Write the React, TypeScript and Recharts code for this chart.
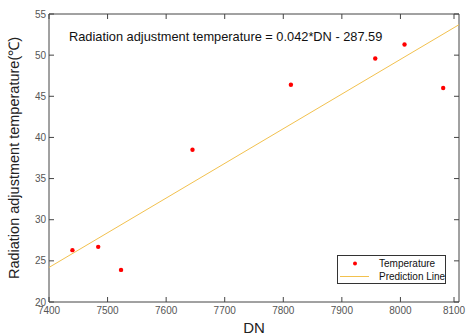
import React from "react";
import { ComposedChart, Scatter, XAxis, YAxis } from "recharts";

const dnValues = [7440, 7484, 7523, 7645, 7813, 7957, 8007, 8073];
const tempValues = [26.3, 26.7, 23.9, 38.5, 46.4, 49.6, 51.3, 46.0];

// fitted prediction line endpoints
const lineDn = [7400, 8100];
const lineTemp = [24.2, 53.7];

const xTicks = [7400, 7500, 7600, 7700, 7800, 7900, 8000, 8100];
const yTicks = [20, 25, 30, 35, 40, 45, 50, 55];

const points = dnValues.map((dn, i) => ({ dn, temp: tempValues[i] }));
const linePoints = lineDn.map((dn, i) => ({ dn, temp: lineTemp[i] }));

const AXIS = "#444";
const LABEL = "#555";
const FONT = "'Liberation Sans', Arial, sans-serif";

const BottomTick = (props: any) => {
  const { x, y, payload } = props;
  return (
    <g>
      <line x1={x} y1={y} x2={x} y2={y - 5} stroke={AXIS} strokeWidth={1} />
      <text x={x} y={y + 12} textAnchor="middle" fontSize={10} fill={LABEL} fontFamily={FONT}>
        {payload.value}
      </text>
    </g>
  );
};

const TopTick = (props: any) => {
  const { x, y } = props;
  return <line x1={x} y1={y} x2={x} y2={y + 5} stroke={AXIS} strokeWidth={1} />;
};

const LeftTick = (props: any) => {
  const { x, y, payload } = props;
  return (
    <g>
      <line x1={x} y1={y} x2={x + 5} y2={y} stroke={AXIS} strokeWidth={1} />
      <text x={x - 3} y={y + 3.5} textAnchor="end" fontSize={10} fill={LABEL} fontFamily={FONT}>
        {payload.value}
      </text>
    </g>
  );
};

const RightTick = (props: any) => {
  const { x, y } = props;
  return <line x1={x} y1={y} x2={x - 5} y2={y} stroke={AXIS} strokeWidth={1} />;
};

const Dot = (props: any) => <circle cx={props.cx} cy={props.cy} r={2.2} fill="#ff0000" />;

const LegendBox = () => (
  <svg width={109} height={29} style={{ display: "block" }}>
    <rect x={0.5} y={0.5} width={108} height={28} fill="#fff" stroke="#333" strokeWidth={1} />
    <circle cx={18} cy={8.5} r={2} fill="#ff0000" />
    <text x={42} y={12} fontSize={10} fill="#111" fontFamily={FONT}>Temperature</text>
    <line x1={3} y1={21.5} x2={32} y2={21.5} stroke="#f2c14e" strokeWidth={1} />
    <text x={42} y={25} fontSize={10} fill="#111" fontFamily={FONT}>Prediction Line</text>
  </svg>
);

export default function App() {
  return (
    <div style={{ position: "absolute", left: 0, top: 0, width: 470, height: 335, background: "#fff" }}>
      <ComposedChart width={470} height={335} margin={{ top: 0, right: 0, bottom: 0, left: 0 }}>
        <XAxis
          xAxisId="bottom"
          dataKey="dn"
          type="number"
          domain={[7400, 8100]}
          ticks={xTicks}
          allowDataOverflow
          orientation="bottom"
          height={33}
          tickSize={0}
          tickMargin={0}
          tickLine={false}
          axisLine={{ stroke: AXIS }}
          tick={<BottomTick />}
          label={{ value: "DN", position: "insideBottom", offset: 2, fontSize: 15, fill: "#222", fontFamily: FONT }}
        />
        <XAxis
          xAxisId="top"
          dataKey="dn"
          type="number"
          domain={[7400, 8100]}
          ticks={xTicks}
          allowDataOverflow
          orientation="top"
          height={14}
          tickSize={0}
          tickMargin={0}
          tickLine={false}
          axisLine={{ stroke: AXIS }}
          tick={<TopTick />}
        />
        <YAxis
          yAxisId="left"
          dataKey="temp"
          type="number"
          domain={[20, 55]}
          ticks={yTicks}
          allowDataOverflow
          orientation="left"
          width={49}
          tickSize={0}
          tickMargin={0}
          tickLine={false}
          axisLine={{ stroke: AXIS }}
          tick={<LeftTick />}
          label={{
            value: "Radiation adjustment temperature(\u2103)",
            angle: -90,
            position: "insideLeft",
            offset: 14,
            fontSize: 14.5,
            fill: "#222",
            fontFamily: FONT,
            style: { textAnchor: "middle" },
          }}
        />
        <YAxis
          yAxisId="right"
          dataKey="temp"
          type="number"
          domain={[20, 55]}
          ticks={yTicks}
          allowDataOverflow
          orientation="right"
          width={11}
          tickSize={0}
          tickMargin={0}
          tickLine={false}
          axisLine={{ stroke: AXIS }}
          tick={<RightTick />}
        />
        <Scatter
          name="Prediction Line"
          data={linePoints}
          xAxisId="bottom"
          yAxisId="left"
          line={{ stroke: "#f2c14e", strokeWidth: 1 }}
          shape={() => null}
          isAnimationActive={false}
        />
        <Scatter
          name="Temperature"
          data={points}
          xAxisId="bottom"
          yAxisId="left"
          shape={<Dot />}
          isAnimationActive={false}
        />
      </ComposedChart>
      <div style={{ position: "absolute", left: 337, top: 255 }}>
        <LegendBox />
      </div>
      <div
        style={{
          position: "absolute",
          left: 69,
          top: 29,
          fontSize: 12.8,
          fontFamily: FONT,
          color: "#111",
          whiteSpace: "nowrap",
          pointerEvents: "none",
        }}
      >
        Radiation adjustment temperature = 0.042*DN - 287.59
      </div>
    </div>
  );
}
